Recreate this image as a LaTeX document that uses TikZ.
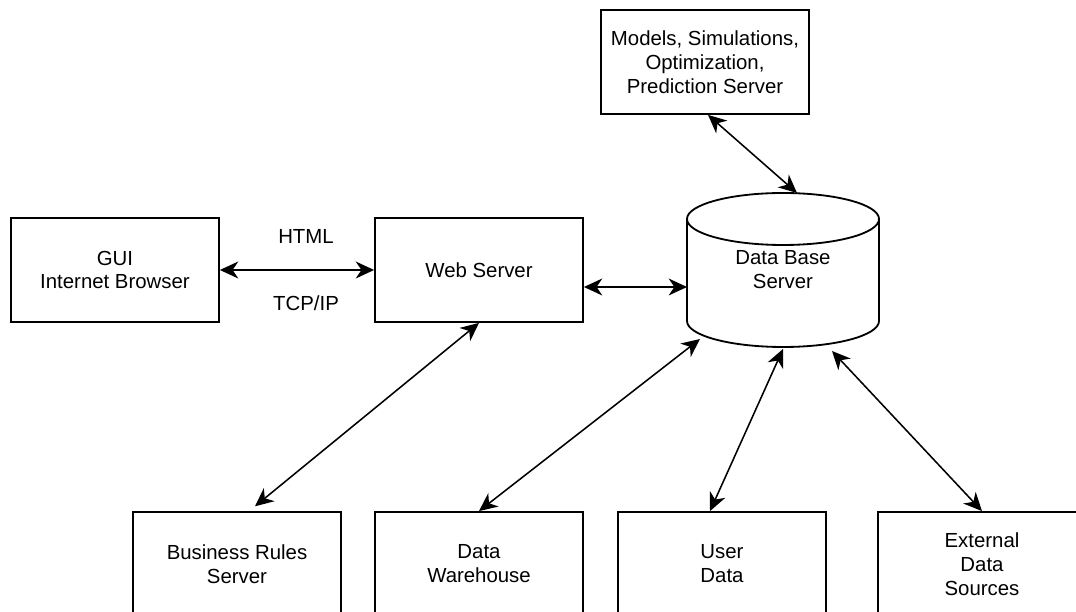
\documentclass[tikz,border=0pt]{standalone}
\usepackage{fontspec}
\setmainfont{Liberation Sans}
\usepackage{tikz}
\usetikzlibrary{arrows.meta}

\begin{document}
\begin{tikzpicture}[
  box/.style={draw,line width=1.3pt,minimum width=5.2cm,minimum height=2.6cm,align=center},
  link/.style={line width=1.1pt,{Stealth[length=13pt,width=12pt,inset=4pt]}-{Stealth[length=13pt,width=12pt,inset=4pt]}},
  every node/.style={font=\fontsize{14.5}{17}\selectfont}
]
\useasboundingbox (0,0) rectangle (26.9,15.3);
%%%%%%%%%%%%%%%%
\node[box] (gui) at (2.875,8.55) {GUI\\Internet Browser};
\node[box] (web) at (11.975,8.55) {Web Server};
\node[box] (models) at (17.625,13.75) {Models, Simulations,\\Optimization,\\Prediction Server};
%%%%%%%%%%%%%%%%
\node[box] (biz) at (5.925,1.2) {Business Rules\\Server};
\node[box] (dw) at (11.975,1.2) {Data\\Warehouse};
\node[box] (user) at (18.05,1.2) {User\\Data};
\node[box] (ext) at (24.55,1.2) {External\\Data\\Sources};
%%%%%%%%%%%%%%%%
% data base drum
\draw [line width=1.3pt] (17.175,9.825) -- (17.175,7.275) arc[start angle=180,end angle=360,x radius=2.4,y radius=0.65] -- (21.975,9.825);
\draw [line width=1.3pt] (19.575,9.825) ellipse[x radius=2.4,y radius=0.65];
\node[align=center] (db) at (19.575,8.55) {Data Base\\Server};
\coordinate (dbw) at (17.175,8.125);
\coordinate (dbn) at (19.925,10.475);
\coordinate (dbsw) at (17.5,6.825);
\coordinate (dbs) at (19.575,6.575);
\coordinate (dbse) at (20.8,6.525);
%%%%%%%%%%%%%%%%
\node (html) at (7.65,9.4) {HTML};
\node (tcpip) at (7.65,7.725) {TCP/IP};
\draw [link] (gui) -- (web);
\draw [link] (web.east |- dbw) -- (dbw);
\draw [link] ([xshift=0.075cm]models.south) -- (dbn);
%%%%%%%%%%%%%%%%
\draw [link] (web.south) -- ([xshift=0.45cm,yshift=0.12cm]biz.north);
\draw [link] (dbsw) -- (dw.north);
\draw [link] (dbs) -- ([xshift=-0.3cm]user.north);
\draw [link] (dbse) -- (ext.north);
\end{tikzpicture}
\end{document}
